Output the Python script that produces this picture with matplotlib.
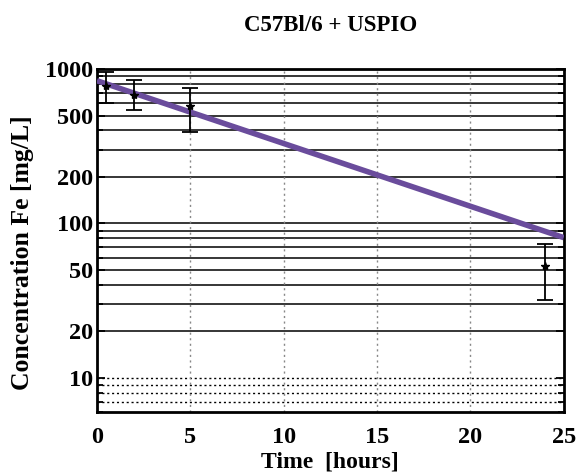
import numpy as np
import matplotlib
matplotlib.use("Agg")
import matplotlib.pyplot as plt
from matplotlib.ticker import FixedLocator, NullFormatter

plt.rcParams['font.family'] = ['Liberation Serif', 'DejaVu Serif']
plt.rcParams['font.weight'] = 'bold'

# measured points (time, mean, lower, upper)
t_meas = [0.5, 2, 5, 24]
c_mean = [780, 680, 575, 53]
c_low = [600, 540, 390, 32]
c_high = [960, 845, 750, 74]

# fitted mono-exponential decay, end points
t_fit = [0, 25]
c_fit = [840, 81]

solid_levels = [20, 30, 40, 50, 60, 70, 80, 90, 100, 200, 300, 400, 500, 600, 700, 800, 900, 1000]
dotted_levels = [7, 8, 9, 10]
x_grid = [5, 10, 15, 20]
y_ticks = [10, 20, 50, 100, 200, 500, 1000]
x_ticks = [0, 5, 10, 15, 20, 25]

fig = plt.figure(figsize=(5.77, 4.76), dpi=100)
ax = fig.add_axes([0.168, 0.134, 0.809, 0.721])
ax.set_yscale('log')

for lv in solid_levels:
    ax.axhline(lv, color='black', lw=1.1, zorder=1)
for lv in dotted_levels:
    ax.axhline(lv, color='black', lw=1.0, ls=(0, (1.5, 2)), zorder=1)
for xv in x_grid:
    ax.axvline(xv, color='#888888', lw=1.0, ls=(0, (1.5, 2.5)), zorder=1)

ax.plot(t_fit, c_fit, color='#6a4c9c', lw=4, zorder=3, solid_capstyle='butt')

yerr = [np.array(c_mean) - np.array(c_low), np.array(c_high) - np.array(c_mean)]
ax.errorbar(t_meas, c_mean, yerr=yerr, fmt='*', color='black', ms=6,
            ecolor='black', elinewidth=1.3, capsize=6, capthick=1.3, zorder=4)

ax.set_xlim(0, 25)
ax.set_ylim(6, 1000)
ax.set_xticks(x_ticks)
ax.set_xticklabels([str(v) for v in x_ticks])
ax.yaxis.set_major_locator(FixedLocator(y_ticks))
ax.set_yticklabels([str(v) for v in y_ticks])
ax.yaxis.set_minor_locator(FixedLocator([6, 7, 8, 9, 30, 40, 60, 70, 80, 90, 300, 400, 600, 700, 800, 900]))
ax.yaxis.set_minor_formatter(NullFormatter())

ax.tick_params(axis='both', which='both', direction='in', right=True, top=False,
               width=1.3, labelsize=17.5)
ax.tick_params(axis='y', which='major', length=6, pad=3)
ax.tick_params(axis='y', which='minor', length=4)
ax.tick_params(axis='x', length=0, pad=11)
for s in ax.spines.values():
    s.set_linewidth(2)

ax.set_xlabel('Time  [hours]', fontsize=17, fontweight='bold')
ax.xaxis.set_label_coords(0.5, -0.115)
ax.set_ylabel('Concentration Fe [mg/L]', fontsize=18.5, fontweight='bold')
ax.yaxis.set_label_coords(-0.135, 0.466)
ax.set_title('C57Bl/6 + USPIO', fontsize=16.5, fontweight='bold', y=1.11, pad=0)

fig.savefig('out.png', dpi=100)
